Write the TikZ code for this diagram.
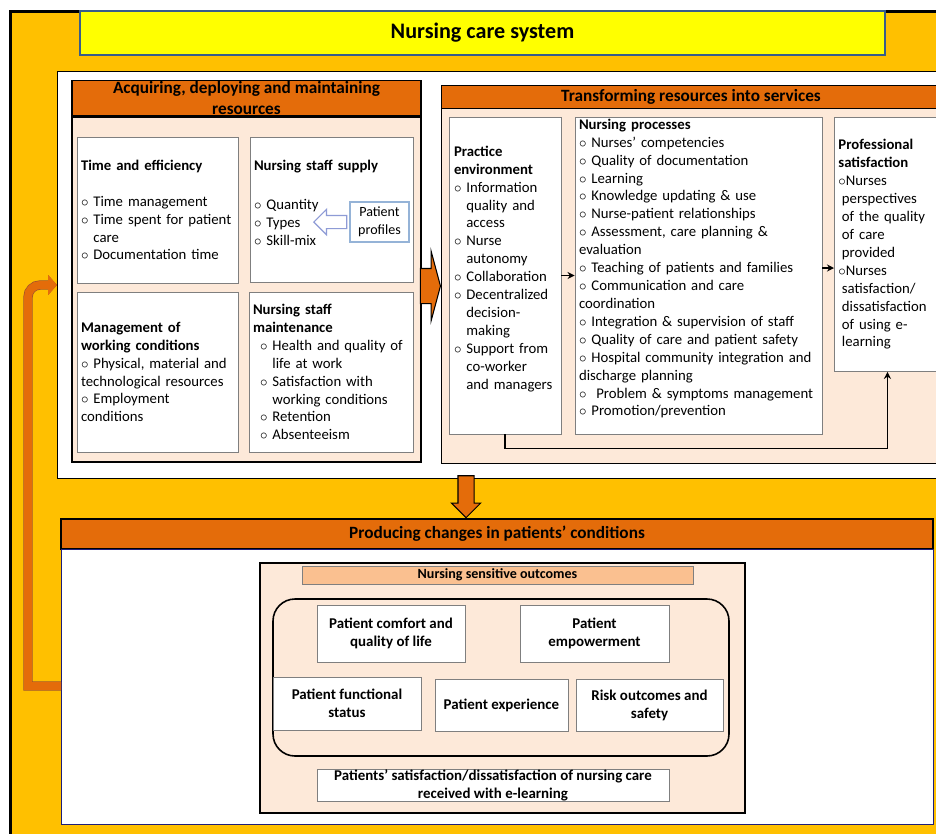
\documentclass[tikz,border=0pt]{standalone}
\usepackage{fontspec}
\setmainfont{Carlito}
\usepackage{xcolor}
\usetikzlibrary{arrows.meta,shapes.arrows,calc}
\newlength\pxu
\setlength\pxu{0.02cm}
\hyphenpenalty=10000
\definecolor{ncSys}{HTML}{FFC000}
\definecolor{ncTitle}{HTML}{FFFF00}
\definecolor{ncTitleEdge}{HTML}{385D8A}
\definecolor{ncHdr}{HTML}{E46C0A}
\definecolor{ncPeach}{HTML}{FDE9D9}
\definecolor{ncNso}{HTML}{FAC090}
\definecolor{ncEdge}{HTML}{7F7F7F}
\definecolor{ncProf}{HTML}{95B3D7}
\definecolor{ncHollow}{HTML}{8E9BD6}
\definecolor{ncNavy}{HTML}{1F1F7A}
\definecolor{ncRim}{HTML}{A0522D}
\newcommand\bul{$\circ$\ }
\newcommand\hang{\phantom{\bul}}

\begin{document}
\begin{tikzpicture}[x=0.02cm,y=-0.02cm,
  panel/.style={draw=black,line width=0.8pt,inner sep=0pt},
  hdr/.style={draw=black,fill=ncHdr,line width=0.6pt,align=center,inner sep=0pt,
    font=\fontsize{9.8}{12.5}\selectfont\bfseries},
  item/.style={draw=ncEdge,fill=white,line width=0.5pt,align=left,
    inner xsep=4\pxu,inner ysep=0pt,font=\fontsize{8.4}{10.2}\selectfont},
  outc/.style={draw=ncEdge,fill=white,line width=0.5pt,align=center,inner sep=0pt,
    font=\fontsize{8.5}{10.2}\selectfont\bfseries},
  blk/.style={single arrow,draw=black,fill=ncHdr,line width=0.6pt},
  sm/.style={-{Stealth[length=4pt,width=4pt]},line width=0.8pt},
  fbk/.style={draw=ncHdr,line width=4.5pt,-{Triangle[length=5pt,width=11pt]},
    preaction={draw=ncRim,line width=5.3pt}}
]
\useasboundingbox (0,0) rectangle (936,833);
\node[draw=black,line width=1.7pt,fill=ncSys,minimum width=950\pxu,minimum height=840\pxu,
  anchor=north west] (sys) at (9,10) {};
\node[draw=ncTitleEdge,line width=0.9pt,fill=ncTitle,minimum width=805\pxu,minimum height=44\pxu,
  font=\fontsize{12.6}{15}\selectfont\bfseries] (ttl) at (482.5,33) {Nursing care system};

% acquiring resources
\node[panel,fill=white,minimum width=888\pxu,minimum height=407\pxu,anchor=north west] (upper) at (57,71) {};
\node[hdr,minimum width=349\pxu,minimum height=30\pxu] (acqh) at (246.5,98)
  {Acquiring, deploying and maintaining\\resources};
\node[panel,fill=ncPeach,minimum width=349\pxu,minimum height=345\pxu] (acq) at (246.5,289.5) {};
\node[item,minimum width=161\pxu,minimum height=146\pxu,text width=153\pxu] (time) at (157.5,210)
  {\textbf{Time and efficiency}\\[10.2pt]
   \bul Time management\\ \bul Time spent for patient\\ \hang care\\ \bul Documentation time};
\node[item,minimum width=163\pxu,minimum height=145\pxu,text width=155\pxu] (supply) at (331.5,209.5)
  {\textbf{Nursing staff supply}\\[12pt]
   \bul Quantity\\ \bul Types\\ \bul Skill-mix\\[-2.2pt]\mbox{}};
\node[item,minimum width=161\pxu,minimum height=160\pxu,text width=153\pxu] (workc) at (157.5,372)
  {\textbf{Management of}\\ \textbf{working conditions}\\ \bul Physical, material and\\
   technological resources\\ \bul Employment\\ conditions};
\node[item,minimum width=164\pxu,minimum height=160\pxu,text width=156\pxu] (maint) at (331,372)
  {\textbf{Nursing staff}\\ \textbf{maintenance}\\
   \hspace*{4pt}\bul Health and quality of\\ \hspace*{4pt}\hang life at work\\
   \hspace*{4pt}\bul Satisfaction with\\ \hspace*{4pt}\hang working conditions\\
   \hspace*{4pt}\bul Retention\\ \hspace*{4pt}\bul Absenteeism};
\node[draw=ncProf,fill=white,line width=0.6pt,minimum width=59\pxu,minimum height=40\pxu,
  align=center,inner sep=0pt,font=\fontsize{8}{10}\selectfont] (prof) at (379.5,222) {Patient\\profiles};
\node[single arrow,draw=ncHollow,fill=white,line width=0.7pt,inner xsep=0pt,inner ysep=6\pxu,
  minimum height=33\pxu,single arrow head extend=6\pxu,shape border rotate=180,anchor=tail]
  (hollow) at ([xshift=-2\pxu]prof.west) {};

% transforming resources
\node[hdr,minimum width=499\pxu,minimum height=23\pxu,anchor=north west] (trah) at (441,85)
  {Transforming resources into services};
\node[panel,fill=ncPeach,minimum width=499\pxu,minimum height=355\pxu,anchor=north west] (tra) at (441,108) {};
\node[blk,inner xsep=0pt,inner ysep=17\pxu,minimum height=20\pxu,single arrow head extend=17\pxu,
  single arrow tip angle=150,anchor=tip] (bigr) at (tra.west |- 0,286) {};
\node[item,minimum width=112\pxu,minimum height=317\pxu,text width=102\pxu,inner xsep=5\pxu] (penv) at (505,275.5)
  {\textbf{Practice}\\ \textbf{environment}\\ \bul Information\\ \hang quality and\\ \hang access\\
   \bul Nurse\\ \hang autonomy\\ \bul Collaboration\\ \bul Decentralized\\ \hang decision-\\
   \hang making\\ \bul Support from\\ \hang co-worker\\ \hang and managers\\[-1.2pt]\mbox{}};
\node[item,minimum width=247\pxu,minimum height=317\pxu,text width=239\pxu] (nproc) at (698.5,275.5)
  {\textbf{Nursing processes}\\ \bul Nurses’ competencies\\ \bul Quality of documentation\\
   \bul Learning\\ \bul Knowledge updating \& use\\ \bul Nurse-patient relationships\\
   \bul Assessment, care planning \&\\ evaluation\\ \bul Teaching of patients and families\\
   \bul Communication and care\\ coordination\\ \bul Integration \& supervision of staff\\
   \bul Quality of care and patient safety\\ \bul Hospital community integration and\\
   discharge planning\\ \bul\ Problem \& symptoms management\\ \bul Promotion/prevention\\[-1pt]\mbox{}};
\node[item,minimum width=106\pxu,minimum height=254\pxu,text width=98\pxu,
  anchor=north west] (psat) at (834,117)
  {\textbf{Professional}\\ \textbf{satisfaction}\\ $\circ$Nurses\\ \hspace*{2pt}perspectives\\
   \hspace*{2pt}of the quality\\ \hspace*{2pt}of care\\ \hspace*{2pt}provided\\ $\circ$Nurses\\
   \hspace*{2pt}satisfaction/\\ \hspace*{2pt}dissatisfaction\\ \hspace*{2pt}of using e-\\ \hspace*{2pt}learning};
\draw[sm] (penv) -- (nproc);
\draw[sm] (nproc.east |- 0,268) -- (psat.west |- 0,268);
\draw[sm] (penv.south) -- ++(0,14) -| (psat.south);

% producing changes
\node[hdr,minimum width=872\pxu,minimum height=30\pxu] (prodh) at (497,534)
  {Producing changes in patients’ conditions};
\node[draw=ncNavy,line width=0.8pt,fill=white,minimum width=872\pxu,minimum height=275\pxu,
  anchor=north west] (prod) at (61,549) {};
\node[blk,inner sep=7.5\pxu,minimum height=42\pxu,single arrow head extend=6.5\pxu,
  shape border rotate=270,anchor=tip] (down) at (prodh.north -| 466,0) {};
\node[draw=black,fill=ncPeach,line width=0.8pt,minimum width=485\pxu,minimum height=250\pxu] (nso) at (502.5,688) {};
\node[draw=ncEdge,fill=ncNso,line width=0.5pt,minimum width=391\pxu,minimum height=18\pxu,inner sep=0pt,
  font=\fontsize{8}{10}\selectfont\bfseries] (nsoh) at (497.5,575) {Nursing sensitive outcomes};
\node[draw=black,line width=0.9pt,rounded corners=22\pxu,minimum width=456\pxu,minimum height=157\pxu] (ring) at (501,677.5) {};
\node[outc,minimum width=148\pxu,minimum height=57\pxu] (comf) at (391,633.5) {Patient comfort and\\quality of life};
\node[outc,minimum width=149\pxu,minimum height=57\pxu] (empw) at (594.5,633.5) {Patient\\empowerment};
\node[outc,minimum width=148\pxu,minimum height=53\pxu] (func) at (347,703.5) {Patient functional\\status};
\node[outc,minimum width=133\pxu,minimum height=52\pxu] (expr) at (501.5,705) {Patient experience};
\node[outc,minimum width=147\pxu,minimum height=52\pxu] (risk) at (649.5,705) {Risk outcomes and\\safety};
\node[outc,minimum width=352\pxu,minimum height=32\pxu] (sat) at (493,785)
  {Patients’ satisfaction/dissatisfaction of nursing care\\received with e-learning};

% feedback loop
\draw[fbk] (prod.west |- 0,686) -- ++(-33,0) -- ++(0,-370) [rounded corners=12\pxu] |- (upper.west |- 0,285);
\end{tikzpicture}
\end{document}
